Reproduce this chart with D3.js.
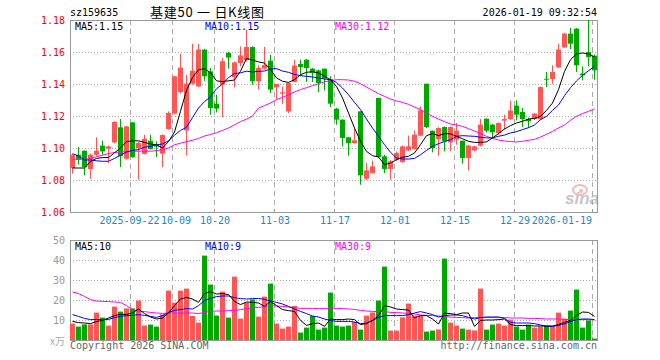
<!DOCTYPE html>
<html lang="zh">
<head>
<meta charset="UTF-8">
<script src="https://d3js.org/d3.v7.min.js"></script>
<style>
  body { margin: 0; background: #fff; }
  svg text { font-family: "DejaVu Sans Mono", "Liberation Mono", monospace; font-size: 10px; }
</style>
</head>
<body>
<div id="chart"></div>
<script>
// trading days shown (one candle each)
var dates = [
  "2025-09-08","2025-09-09","2025-09-10","2025-09-11","2025-09-12","2025-09-15","2025-09-16","2025-09-17","2025-09-18","2025-09-19",
  "2025-09-22","2025-09-23","2025-09-24","2025-09-25","2025-09-26","2025-09-29","2025-09-30",
  "2025-10-09","2025-10-10","2025-10-13","2025-10-14","2025-10-15","2025-10-16","2025-10-17",
  "2025-10-20","2025-10-21","2025-10-22","2025-10-23","2025-10-24","2025-10-27","2025-10-28","2025-10-29","2025-10-30","2025-10-31",
  "2025-11-03","2025-11-04","2025-11-05","2025-11-06","2025-11-07","2025-11-10","2025-11-11","2025-11-12","2025-11-13","2025-11-14",
  "2025-11-17","2025-11-18","2025-11-19","2025-11-20","2025-11-21","2025-11-24","2025-11-25","2025-11-26","2025-11-27","2025-11-28",
  "2025-12-01","2025-12-02","2025-12-03","2025-12-04","2025-12-05","2025-12-08","2025-12-09","2025-12-10","2025-12-11","2025-12-12",
  "2025-12-15","2025-12-16","2025-12-17","2025-12-18","2025-12-19","2025-12-22","2025-12-23","2025-12-24","2025-12-25","2025-12-26",
  "2025-12-29","2025-12-30","2025-12-31",
  "2026-01-05","2026-01-06","2026-01-07","2026-01-08","2026-01-09","2026-01-12","2026-01-13","2026-01-14","2026-01-15","2026-01-16",
  "2026-01-19"
];

var open = [
  1.0875,1.0958,1.0983,1.0869,1.0958,1.1015,1.0996,1.1035,1.1129,1.0933,
  1.1160,1.1000,1.0963,1.1046,1.1015,1.0965,1.1119,1.1215,1.1350,1.1110,
  1.1402,1.1385,1.1615,1.1479,1.1277,1.1396,1.1594,1.1442,1.1531,1.1550,
  1.1631,1.1417,1.1496,1.1546,1.1381,1.1340,1.1229,1.1413,1.1525,1.1552,
  1.1496,1.1485,1.1496,1.1431,1.1246,1.1177,1.1067,1.1031,1.1229,1.0808,
  1.0844,1.1313,1.0948,1.0869,1.0927,1.0913,1.0985,1.0994,1.1077,1.1402,
  1.1108,1.1056,1.1131,1.1035,1.1052,1.1046,1.0938,1.0985,1.1015,1.1183,
  1.1146,1.1094,1.1171,1.1181,1.1265,1.1225,1.1181,1.1181,1.1181,1.1433,
  1.1431,1.1504,1.1629,1.1715,1.1746,1.1465,1.1600,1.1577
];
var high = [
  1.0962,1.1006,1.0985,1.0965,1.1067,1.1046,1.1015,1.1167,1.1181,1.1138,
  1.1163,1.1040,1.1083,1.1081,1.1042,1.1085,1.1229,1.1450,1.1588,1.1458,
  1.1652,1.1650,1.1620,1.1500,1.1333,1.1563,1.1600,1.1540,1.1635,1.1740,
  1.1635,1.1520,1.1631,1.1583,1.1400,1.1385,1.1410,1.1552,1.1552,1.1555,
  1.1500,1.1490,1.1496,1.1448,1.1250,1.1180,1.1070,1.1119,1.1229,1.0906,
  1.0921,1.1313,1.0958,1.0925,1.0979,1.1015,1.1077,1.1110,1.1260,1.1402,
  1.1110,1.1130,1.1135,1.1135,1.1156,1.1046,1.1020,1.1015,1.1181,1.1185,
  1.1150,1.1160,1.1208,1.1296,1.1298,1.1250,1.1190,1.1220,1.1385,1.1475,
  1.1517,1.1652,1.1720,1.1750,1.1750,1.1510,1.1800,1.1585
];
var low = [
  1.0840,1.0896,1.0829,1.0808,1.0950,1.0958,1.0906,1.1030,1.0881,1.0927,
  1.0938,1.0802,1.0960,1.0990,1.0944,1.0881,1.1115,1.1210,1.1340,1.0954,
  1.1396,1.1380,1.1420,1.1208,1.1223,1.1194,1.1496,1.1379,1.1510,1.1540,
  1.1396,1.1365,1.1490,1.1344,1.1302,1.1277,1.1219,1.1410,1.1448,1.1413,
  1.1413,1.1350,1.1360,1.1256,1.1146,1.1010,1.0952,1.1027,1.0771,1.0800,
  1.0840,1.0938,1.0844,1.0802,1.0920,1.0908,1.0980,1.0990,1.1075,1.1125,
  1.0973,1.0952,1.0979,1.0979,1.1021,1.0902,1.0860,1.0980,1.1010,1.1098,
  1.1063,1.1083,1.1115,1.1175,1.1173,1.1131,1.1125,1.1175,1.1175,1.1381,
  1.1402,1.1500,1.1625,1.1619,1.1475,1.1423,1.1510,1.1427
];
var close = [
  1.0958,1.0927,1.0881,1.0958,1.0983,1.0979,1.1010,1.1163,1.0948,1.1135,
  1.0944,1.1031,1.1058,1.0994,1.1010,1.1081,1.1219,1.1448,1.1502,1.1402,
  1.1483,1.1615,1.1448,1.1250,1.1246,1.1542,1.1565,1.1535,1.1579,1.1631,
  1.1417,1.1500,1.1519,1.1365,1.1400,1.1348,1.1406,1.1515,1.1506,1.1500,
  1.1469,1.1406,1.1433,1.1277,1.1177,1.1063,1.1031,1.1048,1.0829,1.0860,
  1.0885,1.0944,1.0869,1.0917,1.0969,1.1010,1.1010,1.1083,1.1235,1.1131,
  1.1000,1.1125,1.1042,1.1131,1.1108,1.0938,1.1015,1.1010,1.1146,1.1108,
  1.1098,1.1156,1.1181,1.1235,1.1208,1.1181,1.1167,1.1215,1.1381,1.1427,
  1.1475,1.1615,1.1715,1.1652,1.1517,1.1454,1.1569,1.1485
];

// price moving averages as drawn
var ma5 = [
  1.0875,1.0875,1.0875,1.0915,1.0935,1.0940,1.0940,1.0970,1.1000,1.1040,
  1.1045,1.1045,1.1035,1.1025,1.1020,1.1000,1.1040,1.1100,1.1230,1.1360,
  1.1440,1.1490,1.1495,1.1470,1.1420,1.1415,1.1420,1.1425,1.1480,1.1560,
  1.1550,1.1538,1.1531,1.1490,1.1438,1.1417,1.1410,1.1427,1.1458,1.1473,
  1.1477,1.1469,1.1448,1.1427,1.1385,1.1313,1.1219,1.1125,1.1042,1.0979,
  1.0952,1.0944,1.0896,1.0906,1.0927,1.0942,1.0948,1.0969,1.1021,1.1077,
  1.1090,1.1077,1.1090,1.1088,1.1073,1.1058,1.1042,1.1035,1.1035,1.1038,
  1.1063,1.1090,1.1119,1.1140,1.1156,1.1167,1.1181,1.1185,1.1198,1.1235,
  1.1281,1.1365,1.1479,1.1552,1.1588,1.1594,1.1588,1.1569
];
var ma10 = [
  1.0965,1.0950,1.0925,1.0925,1.0920,1.0917,1.0917,1.0935,1.0955,1.0975,
  1.0985,1.0990,1.1005,1.1010,1.1020,1.1025,1.1045,1.1080,1.1110,1.1130,
  1.1190,1.1250,1.1290,1.1320,1.1370,1.1400,1.1440,1.1465,1.1470,1.1480,
  1.1475,1.1479,1.1481,1.1494,1.1496,1.1481,1.1473,1.1460,1.1452,1.1448,
  1.1444,1.1438,1.1431,1.1427,1.1410,1.1375,1.1333,1.1285,1.1240,1.1181,
  1.1125,1.1073,1.1021,1.0973,1.0938,1.0931,1.0931,1.0935,1.0958,1.0985,
  1.1010,1.1027,1.1040,1.1052,1.1073,1.1077,1.1075,1.1073,1.1067,1.1063,
  1.1063,1.1073,1.1081,1.1094,1.1102,1.1115,1.1127,1.1144,1.1177,1.1198,
  1.1235,1.1269,1.1327,1.1377,1.1419,1.1454,1.1483,1.1510
];
var ma30 = [
  1.0930,1.0930,1.0930,1.0935,1.0945,1.0955,1.0965,1.0972,1.0975,1.0977,
  1.0979,1.0980,1.0980,1.0980,1.0983,1.0990,1.1000,1.1020,1.1030,1.1040,
  1.1048,1.1060,1.1075,1.1085,1.1095,1.1110,1.1125,1.1145,1.1165,1.1180,
  1.1200,1.1250,1.1265,1.1281,1.1302,1.1317,1.1333,1.1350,1.1365,1.1377,
  1.1390,1.1402,1.1413,1.1421,1.1427,1.1427,1.1425,1.1417,1.1402,1.1381,
  1.1360,1.1340,1.1323,1.1306,1.1294,1.1285,1.1273,1.1256,1.1240,1.1219,
  1.1198,1.1181,1.1165,1.1150,1.1144,1.1135,1.1121,1.1106,1.1090,1.1073,
  1.1060,1.1050,1.1044,1.1040,1.1038,1.1042,1.1048,1.1054,1.1069,1.1085,
  1.1104,1.1125,1.1144,1.1173,1.1198,1.1215,1.1229,1.1244
];

// volume (x万)
var volume = [
  8.2,6.7,7.8,7.8,13.7,11.2,7.2,16.7,14.2,15.8,
  15.8,19.7,7.2,7.7,6.7,12.8,24.7,18.7,24.7,25.7,
  12.0,8.7,42.2,27.7,12.2,24.2,11.2,31.7,10.7,18.7,
  20.3,11.7,21.7,28.2,8.2,5.7,6.7,17.0,3.7,6.2,
  12.0,5.2,6.2,23.7,7.2,6.7,7.2,9.0,5.2,12.2,
  13.8,19.7,36.7,4.7,4.7,11.3,18.2,12.2,12.2,4.2,
  4.7,5.3,40.7,8.7,7.2,5.7,5.2,4.8,25.7,5.2,
  7.7,8.2,7.2,10.2,6.7,5.2,7.7,6.2,6.7,7.2,
  6.7,13.7,10.7,14.7,25.2,6.2,9.8,0.7
];
var volMa5 = [
  9.3,8.7,8.5,8.2,9.2,9.8,11.0,12.2,12.8,12.8,
  13.5,15.5,13.2,11.5,10.5,11.0,13.5,17.2,20.5,21.3,
  20.5,18.8,23.2,24.2,23.0,23.2,22.7,19.3,17.7,19.0,
  18.8,18.5,16.8,19.3,17.2,15.2,14.7,14.3,9.8,7.3,
  8.2,8.5,6.8,10.5,10.2,10.2,10.5,10.2,7.7,8.2,
  9.8,12.2,17.2,16.5,15.5,15.2,15.0,11.0,12.2,12.2,
  10.5,8.0,13.5,13.2,12.7,13.5,13.5,6.8,9.8,10.0,
  10.0,10.2,10.5,7.7,7.2,7.2,7.2,7.0,7.0,7.0,
  7.0,7.7,8.8,9.8,12.2,14.0,13.8,11.8
];
var volMa10 = [
  12.7,11.8,10.8,10.2,10.2,10.2,10.3,11.2,11.8,12.2,
  12.3,12.7,12.3,11.8,11.3,12.2,13.7,14.8,15.2,15.7,
  15.5,17.2,19.7,20.8,21.7,22.0,22.0,21.2,20.7,20.5,
  20.7,20.8,20.3,19.5,18.8,18.0,16.8,15.5,14.3,13.2,
  12.0,11.5,10.5,9.8,9.3,9.3,9.3,9.0,8.2,8.5,
  9.7,11.3,12.2,12.2,12.2,12.2,12.7,13.5,14.2,13.5,
  12.7,11.5,12.2,12.5,12.5,12.2,11.3,10.5,11.2,11.5,
  11.5,11.5,10.8,8.8,8.5,8.5,8.5,8.2,7.5,6.8,
  6.8,7.3,8.0,9.2,10.2,10.5,10.5,10.2
];
var volMa30 = [
  24.0,23.2,21.8,20.2,19.5,19.3,19.2,19.0,18.8,17.2,
  15.2,14.5,14.2,13.8,13.5,13.3,13.5,13.5,13.5,13.5,
  13.5,13.2,13.8,14.3,14.5,14.5,14.7,14.8,15.2,15.7,
  16.0,16.3,16.7,17.2,17.0,16.8,16.5,16.2,15.8,15.8,
  15.8,15.7,15.7,16.0,15.8,15.7,15.5,15.3,14.8,14.5,
  14.3,14.2,14.2,13.8,13.7,13.5,13.3,13.0,12.5,12.3,
  12.2,12.0,11.8,11.5,11.3,11.2,11.0,11.2,11.3,11.3,
  11.3,11.3,11.2,11.0,11.0,11.0,10.8,10.8,10.7,10.5,
  10.5,10.5,10.3,10.2,10.2,10.2,10.2,10.0
];

var tickDates = ["2025-09-22","2025-10-09","2025-10-20","2025-11-03","2025-11-17","2025-12-01","2025-12-15","2025-12-29","2026-01-19"];
var tickLabels = ["2025-09-22","10-09","10-20","11-03","11-17","12-01","12-15","12-29","2026-01-19"];
var priceTicks = [1.18, 1.16, 1.14, 1.12, 1.10, 1.08, 1.06];
var volTicks = [50, 40, 30, 20, 10];

var UP = "#ff5555", DOWN = "#00a800";
var GRID = "#aaaaaa", FRAME = "#999999";

var width = 660, height = 360;
var left = 70, right = 597;
var pTop = 20, pBottom = 212;
var vTop = 240, vBottom = 340;

var svg = d3.select("#chart").append("svg")
  .attr("width", width)
  .attr("height", height);

var x = d3.scaleBand()
  .domain(dates)
  .range([left, right])
  .paddingInner(1 / 6)
  .paddingOuter(0);

var y = d3.scaleLinear().domain([1.06, 1.18]).range([pBottom, pTop]);
var yv = d3.scaleLinear().domain([0, 50]).range([vBottom, vTop]);

var bw = Math.round(x.bandwidth());
function bx(i) { return Math.round(x(dates[i])); }
function cx(i) { return x(dates[i]) + x.bandwidth() / 2; }

// ---------- header ----------
svg.append("text").attr("x", 70).attr("y", 16).text("sz159635");
svg.append("text").attr("x", 150).attr("y", 16.5)
  .attr("textLength", 114).attr("lengthAdjust", "spacing")
  .style("font-family", "'Noto Sans CJK SC', sans-serif").style("font-size", "13px")
  .text("基建50 一 日K线图");
svg.append("text").attr("x", 597).attr("y", 16).attr("text-anchor", "end")
  .text("2026-01-19 09:32:54");

// ---------- grid + frames ----------
function panelGrid(top, bottom, yScale, ticks) {
  var g = svg.append("g");
  ticks.forEach(function (t) {
    var yy = Math.round(yScale(t)) + 0.5;
    if (yy <= top + 1 || yy >= bottom - 1) return;
    g.append("line")
      .attr("x1", left).attr("x2", right).attr("y1", yy).attr("y2", yy)
      .attr("stroke", GRID).attr("stroke-dasharray", "1,2");
  });
  tickDates.forEach(function (d) {
    var xx = Math.round(x(d)) + 0.5;
    g.append("line")
      .attr("x1", xx).attr("x2", xx).attr("y1", top).attr("y2", bottom - 4)
      .attr("stroke", GRID).attr("stroke-dasharray", "5,4");
    g.append("line")
      .attr("x1", xx).attr("x2", xx).attr("y1", bottom - 3).attr("y2", bottom)
      .attr("stroke", FRAME);
  });
  g.append("rect")
    .attr("x", left + 0.5).attr("y", top + 0.5)
    .attr("width", right - left).attr("height", bottom - top)
    .attr("fill", "none").attr("stroke", FRAME);
}
panelGrid(pTop, pBottom, y, priceTicks);
panelGrid(vTop, vBottom, yv, [40, 30, 20, 10]);

// price axis labels
svg.append("g").selectAll("text")
  .data(priceTicks).enter().append("text")
  .attr("x", 65).attr("y", function (d) { return y(d) + 4; })
  .attr("text-anchor", "end").attr("fill", "#ff0000")
  .text(function (d) { return d.toFixed(2); });

// volume axis labels
svg.append("g").selectAll("text")
  .data(volTicks).enter().append("text")
  .attr("x", 65).attr("y", function (d) { return yv(d) + 4; })
  .attr("text-anchor", "end").attr("fill", "#999999")
  .text(function (d) { return d; });
svg.append("text").attr("x", 65).attr("y", 345).attr("text-anchor", "end")
  .attr("fill", "#aaaaaa").style("font-family", "'Noto Sans CJK SC', sans-serif")
  .text("x万");

// date labels (first two sit tight together, last one kept inside the frame)
var labelShift = [-1.5, 3, 0, 0, 0, 0, 0, 0, 0];
svg.append("g").selectAll("text")
  .data(tickDates).enter().append("text")
  .attr("x", function (d, i) { return i === tickDates.length - 1 ? 592 : x(d) + 1 + labelShift[i]; })
  .attr("y", 224)
  .attr("text-anchor", function (d, i) { return i === tickDates.length - 1 ? "end" : "middle"; })
  .attr("fill", "#1a88cc")
  .text(function (d, i) { return tickLabels[i]; });

// sina watermark
var wm = svg.append("g").attr("opacity", 0.55);
wm.append("ellipse").attr("cx", 580).attr("cy", 190).attr("rx", 7).attr("ry", 5)
  .attr("fill", "none").attr("stroke", "#f08080").attr("stroke-width", 2);
wm.append("circle").attr("cx", 581).attr("cy", 191).attr("r", 2).attr("fill", "#f08080");
wm.append("text").attr("x", 565).attr("y", 204)
  .style("font-family", "'Liberation Sans', sans-serif").style("font-size", "17px")
  .style("font-weight", "bold").style("font-style", "italic")
  .attr("fill", "#999999").text("sina");

// ---------- candles ----------
var idx = d3.range(dates.length);
var candles = svg.append("g");
candles.selectAll(".wick").data(idx).enter().append("rect")
  .attr("x", function (i) { return bx(i) + Math.floor(bw / 2); })
  .attr("y", function (i) { return y(high[i]); })
  .attr("width", 1)
  .attr("height", function (i) { return Math.max(1, y(low[i]) - y(high[i])); })
  .attr("fill", function (i) { return close[i] >= open[i] ? UP : DOWN; });
candles.selectAll(".body").data(idx).enter().append("rect")
  .attr("x", function (i) { return bx(i); })
  .attr("y", function (i) { return y(Math.max(open[i], close[i])); })
  .attr("width", bw)
  .attr("height", function (i) { return Math.max(1, Math.abs(y(open[i]) - y(close[i]))); })
  .attr("fill", function (i) { return close[i] >= open[i] ? UP : DOWN; });

// ---------- volume bars ----------
svg.append("g").selectAll("rect").data(idx).enter().append("rect")
  .attr("x", function (i) { return bx(i); })
  .attr("y", function (i) { return yv(volume[i]); })
  .attr("width", bw)
  .attr("height", function (i) { return vBottom - yv(volume[i]); })
  .attr("fill", function (i) { return close[i] >= open[i] ? UP : DOWN; });

// ---------- moving average lines ----------
function maLine(values, scale, color) {
  svg.append("path")
    .datum(values)
    .attr("fill", "none")
    .attr("stroke", color)
    .attr("stroke-width", 1)
    .attr("d", d3.line()
      .x(function (d, i) { return cx(i); })
      .y(function (d) { return scale(d); }));
}
maLine(ma30, y, "#ff00ff");
maLine(ma10, y, "#0000ff");
maLine(ma5, y, "#000000");
maLine(volMa30, yv, "#ff00ff");
maLine(volMa10, yv, "#0000ff");
maLine(volMa5, yv, "#000000");

// ---------- legends ----------
svg.append("text").attr("x", 75).attr("y", 29.5).attr("fill", "#000").text("MA5:1.15");
svg.append("text").attr("x", 205).attr("y", 29.5).attr("fill", "#0000ff").text("MA10:1.15");
svg.append("text").attr("x", 335).attr("y", 29.5).attr("fill", "#ff00ff").text("MA30:1.12");
svg.append("text").attr("x", 75).attr("y", 250).attr("fill", "#000").text("MA5:10");
svg.append("text").attr("x", 205).attr("y", 250).attr("fill", "#0000ff").text("MA10:9");
svg.append("text").attr("x", 335).attr("y", 250).attr("fill", "#ff00ff").text("MA30:9");

// ---------- footer ----------
svg.append("text").attr("x", 70).attr("y", 349).attr("fill", "#666").text("Copyright 2026 SINA.COM");
svg.append("text").attr("x", 597).attr("y", 349).attr("text-anchor", "end").attr("fill", "#666")
  .text("http://finance.sina.com.cn");
</script>
</body>
</html>
